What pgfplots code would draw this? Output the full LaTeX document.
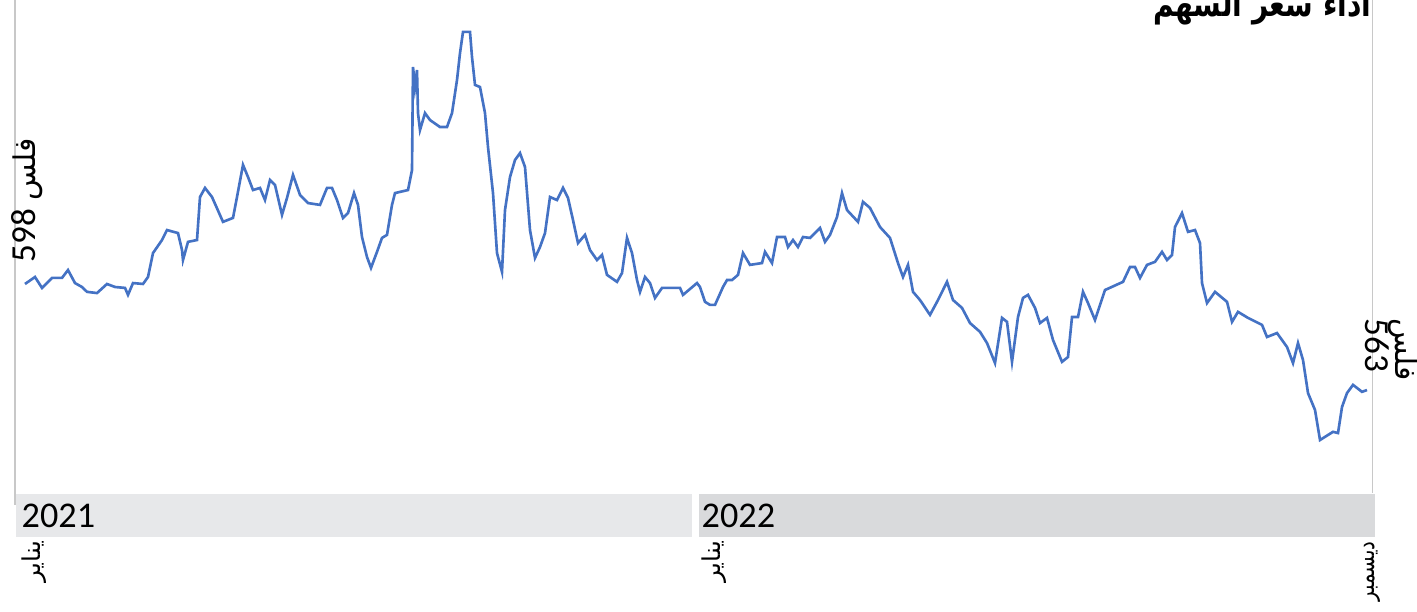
\documentclass[border=0pt]{standalone}
\usepackage{fontspec}
\usepackage{pgfplots}
\usepackage{pgfplotstable}
\pgfplotsset{compat=1.18}
\setmainfont{Carlito}
\newfontfamily\arabicfont[Script=Arabic]{DejaVu Sans}
\newfontfamily\arabicnarrow[Script=Arabic, FakeStretch=0.8]{DejaVu Sans}
\TeXXeTstate=1

\definecolor{lineblue}{HTML}{4472C4}
\definecolor{bandA}{HTML}{E7E8EA}
\definecolor{bandB}{HTML}{D9DADC}
\definecolor{frame}{HTML}{C8C8C8}

% x: position along the two years (same scale as the year bands), y: price in fils
\pgfplotstableread{
x y
25 598.0
35 600.3
42 596.7
52 600.0
62 600.0
68 602.6
75 598.3
82 597.0
87 595.4
97 595.0
107 598.0
115 597.0
125 596.7
128 594.4
133 598.3
143 598.0
148 600.3
153 608.2
162 612.5
167 615.8
178 614.8
182 609.2
183 605.9
188 611.9
197 612.5
200 626.7
205 629.7
212 626.7
223 618.5
233 619.8
237 626.7
243 637.3
248 633.3
253 629.0
260 629.7
265 625.7
270 632.3
275 630.7
282 620.8
287 626.4
293 634.0
300 627.4
308 624.7
320 624.1
327 629.7
332 629.7
337 625.7
343 619.8
348 621.4
354 628.0
358 624.1
362 613.5
367 606.9
371 603.3
377 608.6
382 613.2
387 614.2
392 624.1
395 628.0
408 629.0
412 635.6
413 669.6
415 663.0
417 668.6
418 654.4
420 648.8
425 654.4
430 652.1
440 649.8
447 649.8
452 654.4
457 665.3
460 674.2
463 681.2
470 681.2
472 672.9
475 663.7
480 663.0
485 654.4
488 643.2
493 628.0
497 608.2
502 602.0
505 622.4
510 633.3
515 638.9
520 641.2
525 636.6
530 615.8
535 606.6
540 610.2
545 614.8
550 626.7
557 625.7
563 629.7
568 626.4
573 619.1
578 611.5
585 614.2
590 609.2
597 605.9
602 607.6
607 601.0
617 598.7
622 601.6
627 613.2
632 608.2
637 599.3
640 595.4
645 600.3
650 598.3
655 593.4
662 596.7
680 596.7
683 594.4
697 598.3
700 597.0
705 592.1
710 591.1
715 591.1
723 597.0
727 599.3
732 599.3
738 601.0
743 608.2
750 604.3
762 604.9
765 608.6
772 604.9
777 613.5
785 613.5
788 610.2
793 612.5
798 610.2
803 613.5
810 613.2
820 616.5
825 611.9
830 614.2
837 620.1
842 628.0
847 622.4
858 618.5
863 625.1
870 623.1
880 616.8
890 613.2
898 604.9
903 600.3
908 604.3
913 595.4
920 592.7
930 587.8
938 592.7
947 598.7
953 592.7
962 590.1
970 585.1
980 582.2
987 578.5
995 571.9
1002 586.8
1007 585.5
1012 572.3
1018 587.1
1023 593.4
1028 594.4
1035 590.1
1040 585.1
1047 586.8
1053 579.5
1062 572.3
1068 573.9
1072 587.1
1078 587.1
1083 595.4
1088 591.7
1095 586.1
1105 596.0
1123 598.7
1130 603.6
1135 603.6
1140 600.0
1147 604.3
1155 605.3
1162 608.6
1167 605.9
1172 607.6
1175 616.8
1182 621.4
1188 615.2
1195 615.8
1200 611.5
1202 598.3
1207 591.7
1215 595.4
1227 592.1
1232 585.5
1238 588.8
1248 586.8
1262 584.5
1267 580.5
1277 581.8
1287 577.2
1293 571.9
1298 578.5
1303 572.9
1308 562.0
1315 556.4
1320 546.5
1333 549.2
1338 548.8
1342 557.4
1347 562.0
1353 564.7
1362 562.4
1367 563.0
}\pricedata

\begin{document}
\begin{tikzpicture}
  \begin{axis}[at={(0.17cm,1.21cm)}, anchor=south west,
      scale only axis, width=13.55cm, height=4.90cm,
      xmin=17, xmax=1372, ymin=530, ymax=691.72,
      axis lines=none, clip=false]
    \addplot[lineblue, line width=0.75pt, mark=none] table[x=x, y=y] {\pricedata};
  \end{axis}

  % frame lines
  \draw[frame, line width=0.5pt] (0.15cm,6.11cm) -- (0.15cm,1.06cm);
  \draw[frame, line width=0.5pt] (13.725cm,6.11cm) -- (13.725cm,1.18cm);

  % year bands
  \fill[bandA] (0.16cm,0.74cm) rectangle (6.92cm,1.17cm);
  \fill[bandB] (6.99cm,0.74cm) rectangle (13.75cm,1.17cm);
  \node[anchor=west, inner sep=0pt, font=\fontsize{10.3}{12}\selectfont] at (0.21cm,0.955cm) {2021};
  \node[anchor=west, inner sep=0pt, font=\fontsize{10.3}{12}\selectfont] at (7.01cm,0.955cm) {2022};

  % month labels
  \node[rotate=90, anchor=east, inner sep=0pt, font=\arabicfont\fontsize{7}{8}\selectfont] at (0.345cm,0.71cm) {\beginR يناير\endR};
  \node[rotate=90, anchor=east, inner sep=0pt, font=\arabicfont\fontsize{7}{8}\selectfont] at (7.145cm,0.71cm) {\beginR يناير\endR};
  \node[rotate=90, anchor=east, inner sep=0pt, font=\arabicnarrow\fontsize{7}{8}\selectfont] at (13.72cm,0.70cm) {\beginR ديسمبر\endR};

  % first and last price labels
  \node[rotate=90, anchor=west, inner sep=0pt, font=\fontsize{10}{12}\selectfont] at (0.27cm,3.48cm) {598 {\arabicfont\fontsize{8.5}{10}\selectfont\beginR فلس\endR}};
  \node[rotate=-90, anchor=west, inner sep=0pt, font=\fontsize{10}{12}\selectfont] at (13.77cm,2.93cm) {563};
  \node[rotate=-90, anchor=west, inner sep=0pt, font=\arabicfont\fontsize{8.5}{10}\selectfont] at (14.03cm,2.93cm) {\beginR فلس\endR};

  % title (cut at the top edge, as in the original)
  \node[anchor=base east, inner sep=0pt, font=\arabicnarrow\bfseries\fontsize{10}{12}\selectfont] at (13.72cm,5.95cm) {\beginR أداء سعر السهم\endR};

  \pgfresetboundingbox
  \path[use as bounding box] (0,0) rectangle (14.17cm,6.11cm);
\end{tikzpicture}
\end{document}
